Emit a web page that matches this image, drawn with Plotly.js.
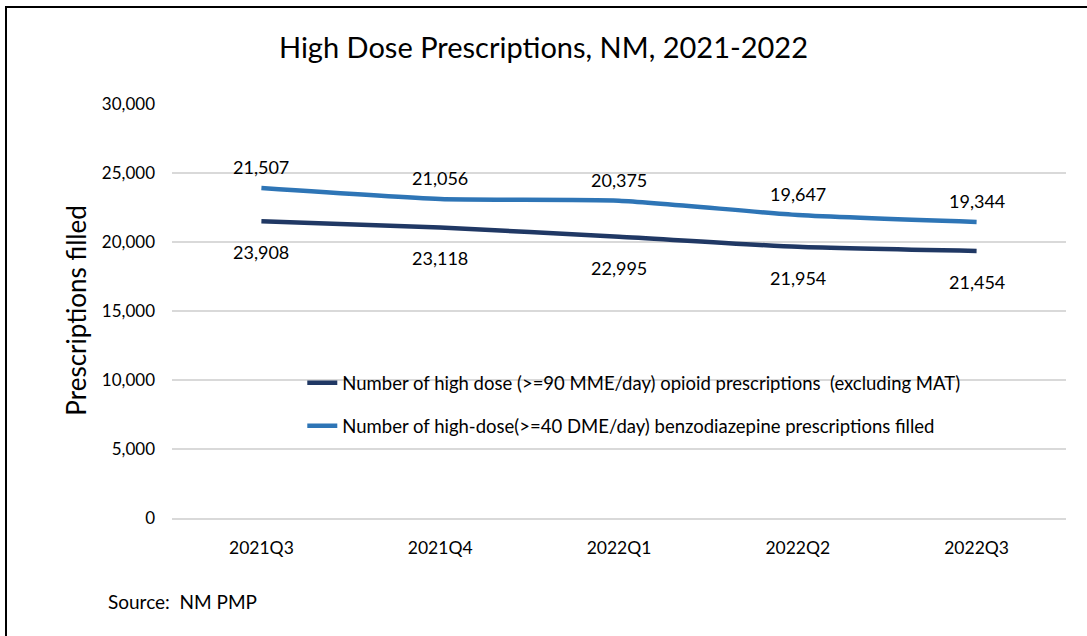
<!DOCTYPE html>
<html>
<head>
<meta charset="utf-8">
<script src="https://cdn.plot.ly/plotly-3.0.1.min.js"></script>
<style>
  html, body { margin: 0; padding: 0; background: #fff; }
  #wrap { position: relative; width: 1087px; height: 636px; overflow: hidden; }
  #chart { width: 1087px; height: 636px; }
  #frame { position: absolute; left: 5px; top: 6px; width: 1100px; height: 700px;
           border-left: 2px solid #000; border-top: 2px solid #000; pointer-events: none; }
</style>
</head>
<body>
<div id="wrap">
  <div id="chart"></div>
  <div id="frame"></div>
</div>
<script>
const quarters = ["2021Q3", "2021Q4", "2022Q1", "2022Q2", "2022Q3"];
const opioidValues = [21507, 21056, 20375, 19647, 19344];
const benzoValues = [23908, 23118, 22995, 21954, 21454];
const opioidName = "Number of high dose (>=90 MME/day) opioid prescriptions  (excluding MAT)";
const benzoName = "Number of high-dose(>=40 DME/day) benzodiazepine prescriptions filled";
const yTicks = [0, 5000, 10000, 15000, 20000, 25000, 30000];

const fmt = v => v.toLocaleString("en-US");
const FONT = "Lato, 'Open Sans', sans-serif";

const traces = [
  { x: quarters, y: opioidValues, name: opioidName, type: "scatter", mode: "lines",
    line: { color: "#203864", width: 4.5, shape: "spline", smoothing: 0.6 },
    legendgroup: "a", hoverinfo: "skip" },
  { x: quarters, y: benzoValues, name: benzoName, type: "scatter", mode: "lines",
    line: { color: "#2E75B6", width: 4.5, shape: "spline", smoothing: 0.6 },
    legendgroup: "b", hoverinfo: "skip" }
];

// Data labels as drawn in the original (labels of each series sit by the other line)
const annotations = [];
quarters.forEach((q, i) => {
  annotations.push({ x: q, y: benzoValues[i], xref: "x", yref: "y", text: fmt(opioidValues[i]),
    showarrow: false, yshift: 21, font: { family: FONT, size: 18, color: "#000" } });
  annotations.push({ x: q, y: opioidValues[i], xref: "x", yref: "y", text: fmt(benzoValues[i]),
    showarrow: false, yshift: -31, font: { family: FONT, size: 18, color: "#000" } });
});
annotations.push({ text: "Prescriptions filled", xref: "paper", yref: "paper", x: -0.127, y: 0.502,
  textangle: -90, showarrow: false, font: { family: FONT, size: 26, color: "#000" } });
annotations.push({ text: "Source:  NM PMP", xref: "paper", yref: "paper", x: (106 - 172) / 892,
  y: (517.7 - 601) / 413.7, xanchor: "left", yanchor: "middle", showarrow: false,
  font: { family: FONT, size: 19, color: "#000" } });

const layout = {
  width: 1087, height: 636,
  margin: { l: 172, r: 21, t: 104, b: 118 },
  paper_bgcolor: "#fff", plot_bgcolor: "#fff",
  font: { family: FONT, color: "#000" },
  title: { text: "High Dose Prescriptions, NM, 2021-2022", xref: "container", x: 0.5,
    yref: "container", y: 1 - 48 / 636, yanchor: "middle", xanchor: "center",
    font: { family: FONT, size: 29, color: "#000" } },
  xaxis: { type: "category", range: [-0.5, 4.5], showgrid: false, zeroline: false,
    showline: true, linecolor: "#d9d9d9", linewidth: 1.5,
    ticks: "", tickfont: { family: FONT, size: 17.5, color: "#000" }, ticklabelstandoff: 13 },
  yaxis: { range: [0, 30000], tickvals: yTicks, ticktext: yTicks.map(fmt), showgrid: true,
    gridcolor: "#d9d9d9", gridwidth: 1.5, zeroline: false, showline: false, ticks: "",
    tickfont: { family: FONT, size: 17, color: "#000" }, ticklabelstandoff: 16 },
  showlegend: true,
  legend: { x: (302 - 172) / 892, y: (517.7 - 364) / 413.7, xanchor: "left", yanchor: "top",
    bgcolor: "rgba(0,0,0,0)", traceorder: "grouped", tracegroupgap: 16,
    font: { family: FONT, size: 18.5, color: "#000" } },
  annotations: annotations
};

Plotly.newPlot("chart", traces, layout, { displayModeBar: false, staticPlot: true });
</script>
</body>
</html>
